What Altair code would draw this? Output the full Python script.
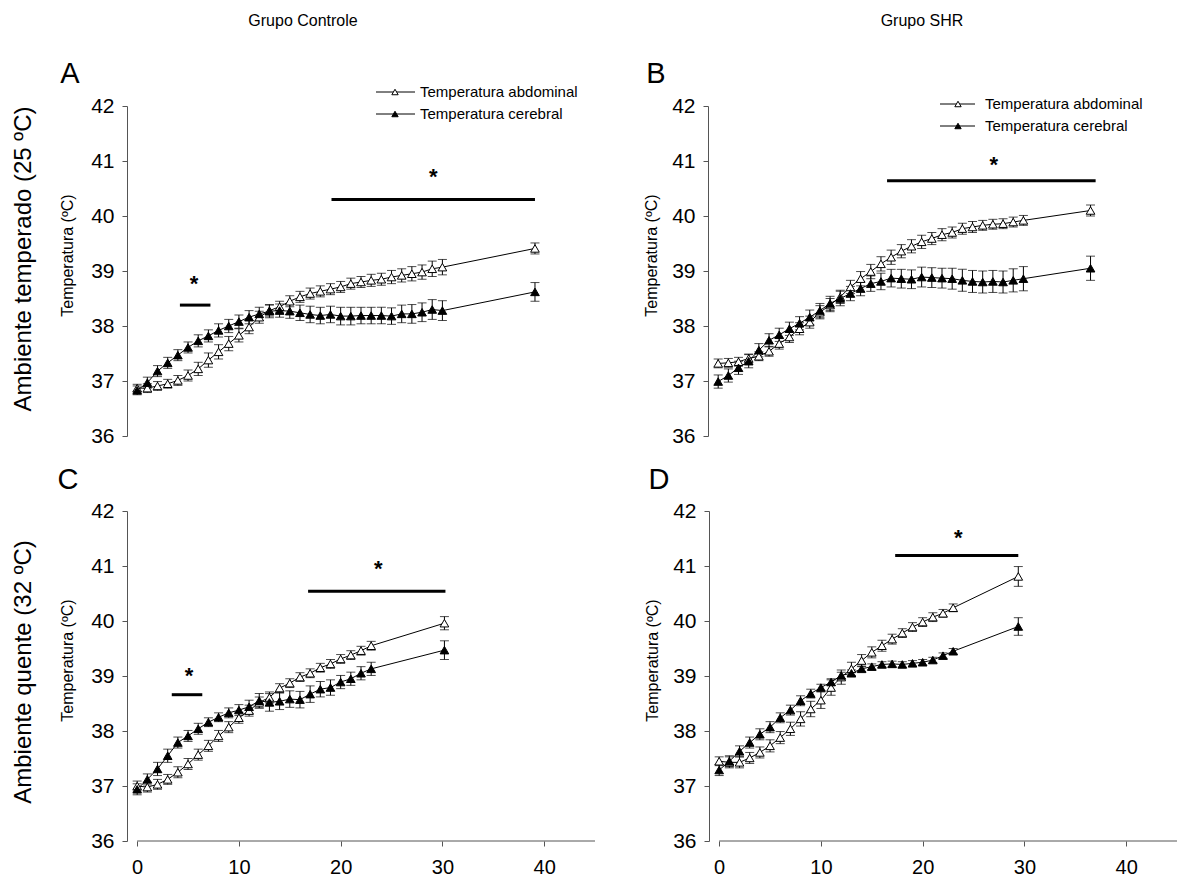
import altair as alt
import pandas as pd

FONT = "Liberation Sans"
series = ["Temperatura abdominal", "Temperatura cerebral"]

# ---------------- Panel A : Controle, 25 ºC ----------------
A_t = list(range(0, 31)) + [39.1]
A_abd = [36.87, 36.87, 36.91, 36.95, 37.01, 37.10, 37.22, 37.38, 37.53, 37.68, 37.83, 37.98, 38.16, 38.28, 38.35, 38.45,
         38.53, 38.59, 38.63, 38.67, 38.71, 38.77, 38.80, 38.83, 38.85, 38.89, 38.92, 38.95, 38.98, 39.04, 39.07, 39.41]
A_abd_e = [0.07, 0.08, 0.08, 0.08, 0.09, 0.10, 0.12, 0.13, 0.13, 0.13, 0.12, 0.12, 0.11, 0.10, 0.10, 0.10,
           0.10, 0.10, 0.10, 0.10, 0.10, 0.10, 0.10, 0.11, 0.11, 0.12, 0.12, 0.13, 0.13, 0.14, 0.14, 0.10]
A_cer = [36.83, 36.97, 37.18, 37.33, 37.47, 37.61, 37.73, 37.82, 37.92, 38.00, 38.08, 38.16, 38.22, 38.27, 38.28, 38.27,
         38.24, 38.21, 38.19, 38.21, 38.18, 38.18, 38.19, 38.19, 38.19, 38.18, 38.22, 38.22, 38.25, 38.30, 38.28, 38.62]
A_cer_e = [0.08, 0.10, 0.10, 0.10, 0.10, 0.10, 0.11, 0.11, 0.12, 0.12, 0.12, 0.12, 0.12, 0.12, 0.12, 0.13,
           0.14, 0.15, 0.15, 0.15, 0.16, 0.16, 0.15, 0.15, 0.15, 0.15, 0.16, 0.17, 0.17, 0.18, 0.18, 0.17]
A_sig_x0 = [4.2, 19.1]
A_sig_x1 = [7.2, 39.1]
A_sig_y = [38.38, 40.30]
A_star_x = [5.6, 29.1]
A_star_y = [38.86, 40.80]

# ---------------- Panel B : SHR, 25 ºC ----------------
B_t = list(range(0, 31)) + [36.6]
B_abd = [37.32, 37.33, 37.35, 37.41, 37.45, 37.54, 37.68, 37.80, 37.95, 38.07, 38.25, 38.38, 38.53, 38.71, 38.86, 38.99,
         39.13, 39.25, 39.36, 39.45, 39.53, 39.59, 39.66, 39.70, 39.77, 39.80, 39.83, 39.85, 39.86, 39.89, 39.92, 40.10]
B_abd_e = [0.08, 0.08, 0.08, 0.08, 0.08, 0.09, 0.10, 0.10, 0.11, 0.11, 0.12, 0.12, 0.12, 0.12, 0.13, 0.13,
           0.13, 0.13, 0.12, 0.12, 0.12, 0.11, 0.11, 0.10, 0.10, 0.10, 0.09, 0.09, 0.09, 0.09, 0.09, 0.10]
B_cer = [36.99, 37.10, 37.24, 37.36, 37.56, 37.74, 37.84, 37.95, 38.05, 38.16, 38.28, 38.41, 38.50, 38.59, 38.68, 38.77,
         38.81, 38.87, 38.86, 38.85, 38.89, 38.88, 38.87, 38.86, 38.83, 38.81, 38.80, 38.81, 38.80, 38.83, 38.86, 39.05]
B_cer_e = [0.12, 0.12, 0.12, 0.12, 0.12, 0.12, 0.12, 0.12, 0.12, 0.13, 0.13, 0.13, 0.13, 0.13, 0.13, 0.14,
           0.15, 0.16, 0.17, 0.17, 0.18, 0.18, 0.18, 0.19, 0.20, 0.20, 0.20, 0.20, 0.20, 0.21, 0.22, 0.22]
B_sig_x0 = [16.6]
B_sig_x1 = [37.1]
B_sig_y = [40.64]
B_star_x = [27.1]
B_star_y = [41.01]

# ---------------- Panel C : Controle, 32 ºC ----------------
C_t = list(range(0, 24)) + [30.2]
C_abd = [37.00, 36.98, 37.03, 37.12, 37.25, 37.40, 37.57, 37.73, 37.91, 38.07, 38.24, 38.37, 38.52, 38.61, 38.78, 38.87,
         38.98, 39.05, 39.15, 39.22, 39.31, 39.38, 39.46, 39.55, 39.96]
C_abd_e = [0.09, 0.09, 0.09, 0.09, 0.10, 0.10, 0.10, 0.10, 0.10, 0.10, 0.10, 0.10, 0.10, 0.10, 0.08, 0.08,
           0.08, 0.08, 0.08, 0.08, 0.08, 0.08, 0.08, 0.08, 0.12]
C_cer = [36.94, 37.12, 37.31, 37.55, 37.79, 37.91, 38.04, 38.16, 38.25, 38.33, 38.38, 38.44, 38.55, 38.52, 38.54, 38.58,
         38.57, 38.67, 38.76, 38.79, 38.89, 38.95, 39.05, 39.13, 39.47]
C_cer_e = [0.10, 0.10, 0.12, 0.12, 0.10, 0.10, 0.10, 0.08, 0.08, 0.09, 0.10, 0.12, 0.13, 0.16, 0.15, 0.15,
           0.15, 0.15, 0.14, 0.14, 0.12, 0.12, 0.12, 0.12, 0.17]
C_sig_x0 = [3.4, 16.8]
C_sig_x1 = [6.4, 30.3]
C_sig_y = [38.66, 40.54]
C_star_x = [5.1, 23.7]
C_star_y = [39.09, 41.03]

# ---------------- Panel D : SHR, 32 ºC ----------------
D_t = list(range(0, 24)) + [29.4]
D_abd = [37.45, 37.43, 37.43, 37.51, 37.61, 37.73, 37.88, 38.04, 38.22, 38.40, 38.56, 38.79, 38.98, 39.13, 39.28, 39.43,
         39.55, 39.67, 39.78, 39.89, 39.98, 40.07, 40.14, 40.24, 40.81]
D_abd_e = [0.08, 0.10, 0.10, 0.10, 0.10, 0.11, 0.11, 0.12, 0.13, 0.14, 0.15, 0.14, 0.13, 0.12, 0.11, 0.10,
           0.10, 0.09, 0.08, 0.08, 0.08, 0.08, 0.07, 0.07, 0.18]
D_cer = [37.29, 37.45, 37.63, 37.79, 37.94, 38.07, 38.24, 38.38, 38.55, 38.68, 38.79, 38.89, 39.01, 39.05, 39.13, 39.17,
         39.21, 39.22, 39.21, 39.23, 39.25, 39.29, 39.37, 39.45, 39.90]
D_cer_e = [0.10, 0.10, 0.10, 0.10, 0.10, 0.10, 0.09, 0.09, 0.09, 0.08, 0.06, 0.06, 0.06, 0.06, 0.05, 0.05,
           0.05, 0.05, 0.05, 0.05, 0.05, 0.05, 0.05, 0.05, 0.16]
D_sig_x0 = [17.3]
D_sig_x1 = [29.4]
D_sig_y = [41.19]
D_star_x = [23.5]
D_star_y = [41.60]

col_titles = ["Grupo Controle", "Grupo SHR"]
row_titles = ["Ambiente temperado (25 ºC)", "Ambiente quente (32 ºC)"]
letters = ["A", "B", "C", "D"]
y_ticks = [36, 37, 38, 39, 40, 41, 42]
x_ticks = [0, 10, 20, 30, 40]
x_axis_span = [0, 45]
y_min = 36

W, H = 468, 330
AX = "#555555"


def make_df(t, abd, abd_e, cer, cer_e):
    rows = []
    for s, m, e in ((series[0], abd, abd_e), (series[1], cer, cer_e)):
        for ti, mi, ei in zip(t, m, e):
            rows.append({"t": ti, "m": mi, "lo": round(mi - ei, 3), "hi": round(mi + ei, 3), "serie": s})
    return pd.DataFrame(rows)


def panel(t, abd, abd_e, cer, cer_e, sx0, sx1, sy, stx, sty, letter, letter_pos,
          col_title=None, col_pos=None, row_title=None, row_pos=None, legend_pos=None,
          show_x=False, ytitle_x=-60):
    df = make_df(t, abd, abd_e, cer, cer_e)
    xscale = alt.Scale(domain=[-1, 45], nice=False, zero=False)
    yscale = alt.Scale(domain=[36, 42], nice=False, zero=False)
    yaxis = alt.Axis(values=y_ticks, grid=False, domainColor=AX, tickColor=AX, tickSize=5,
                     labelFontSize=21, labelFont=FONT, labelColor="black", labelPadding=8, format="d",
                     title="Temperatura (ºC)", titleFont=FONT, titleFontSize=16, titleFontWeight="normal",
                     titleColor="black", titleX=ytitle_x, titleY=149, titleAngle=270, titleAlign="center",
                     titleBaseline="middle")
    if show_x:
        xaxis = alt.Axis(values=x_ticks, grid=False, domain=False, tickColor=AX, tickSize=5,
                         labelFontSize=20, labelFont=FONT, labelColor="black", labelPadding=11,
                         format="d", title=None)
    else:
        xaxis = None
    X = alt.X("t:Q", scale=xscale, axis=xaxis)
    base = alt.Chart(df)
    lines = base.mark_line(color="black", strokeWidth=1).encode(
        x=X, y=alt.Y("m:Q", scale=yscale, axis=yaxis), detail="serie:N")
    bars = base.mark_rule(color="black", strokeWidth=1).encode(
        x=X, y=alt.Y("lo:Q", scale=yscale, axis=yaxis), y2="hi:Q")
    cap_lo = base.mark_tick(orient="horizontal", size=9, thickness=1, color="black").encode(
        x=X, y=alt.Y("lo:Q", scale=yscale, axis=yaxis))
    cap_hi = base.mark_tick(orient="horizontal", size=9, thickness=1, color="black").encode(
        x=X, y=alt.Y("hi:Q", scale=yscale, axis=yaxis))
    pts = base.mark_point(shape="triangle-up", size=75, filled=True, stroke="black",
                          strokeWidth=1, opacity=1).encode(
        x=X, y=alt.Y("m:Q", scale=yscale, axis=yaxis),
        fill=alt.Fill("serie:N", scale=alt.Scale(domain=series, range=["white", "black"]), legend=None))

    sig_df = pd.DataFrame({"x0": sx0, "x1": sx1, "y": sy})
    sig = alt.Chart(sig_df).mark_rule(color="black", strokeWidth=3).encode(
        x=alt.X("x0:Q", scale=xscale, axis=xaxis), x2="x1:Q",
        y=alt.Y("y:Q", scale=yscale, axis=yaxis))
    star_df = pd.DataFrame({"x": stx, "y": sty, "s": ["*"] * len(stx)})
    stars = alt.Chart(star_df).mark_text(font=FONT, fontSize=22, fontWeight="bold", baseline="alphabetic",
                                         dy=12, color="black").encode(
        x=alt.X("x:Q", scale=xscale, axis=xaxis), y=alt.Y("y:Q", scale=yscale, axis=yaxis), text="s:N")

    layers = [lines, bars, cap_lo, cap_hi, pts, sig, stars]

    if show_x:
        ax_df = pd.DataFrame({"x0": [x_axis_span[0]], "x1": [x_axis_span[1]], "y": [y_min]})
        layers.insert(0, alt.Chart(ax_df).mark_rule(color=AX, strokeWidth=1).encode(
            x=alt.X("x0:Q", scale=xscale, axis=xaxis), x2="x1:Q",
            y=alt.Y("y:Q", scale=yscale, axis=yaxis)))

    lab = alt.Chart(pd.DataFrame({"l": [letter]})).mark_text(
        font=FONT, fontSize=29, color="black", align="center", baseline="middle").encode(
        x=alt.value(letter_pos[0]), y=alt.value(letter_pos[1]), text="l:N")
    layers.append(lab)
    if col_title:
        ct = alt.Chart(pd.DataFrame({"l": [col_title]})).mark_text(
            font=FONT, fontSize=16, color="black", align="center", baseline="middle").encode(
            x=alt.value(col_pos[0]), y=alt.value(col_pos[1]), text="l:N")
        layers.append(ct)
    if row_title:
        rt = alt.Chart(pd.DataFrame({"l": [row_title]})).mark_text(
            font=FONT, fontSize=24, color="black", align="center", baseline="middle", angle=270).encode(
            x=alt.value(row_pos[0]), y=alt.value(row_pos[1]), text="l:N")
        layers.append(rt)
    if legend_pos:
        lx0, lx1, ltri, ltext, ly0, ldy = legend_pos
        for k, s in enumerate(series):
            yy = ly0 + k * ldy
            ldf = pd.DataFrame({"serie": [s]})
            lc = alt.Chart(ldf)
            layers.append(lc.mark_rule(color="black", strokeWidth=1).encode(
                x=alt.value(lx0), x2=alt.value(lx1), y=alt.value(yy)))
            layers.append(lc.mark_point(shape="triangle-up", size=40, filled=True, stroke="black",
                                        strokeWidth=1, opacity=1).encode(
                x=alt.value(ltri), y=alt.value(yy),
                fill=alt.Fill("serie:N", scale=alt.Scale(domain=series, range=["white", "black"]),
                              legend=None)))
            layers.append(lc.mark_text(font=FONT, fontSize=15, color="black", align="left",
                                       baseline="middle").encode(
                x=alt.value(ltext), y=alt.value(yy), text="serie:N"))
    return alt.layer(*layers).properties(width=W, height=H)


pA = panel(A_t, A_abd, A_abd_e, A_cer, A_cer_e, A_sig_x0, A_sig_x1, A_sig_y, A_star_x, A_star_y,
           letters[0], (-57, -32), col_title=col_titles[0], col_pos=(176, -85),
           row_title=row_titles[0], row_pos=(-103, 153), legend_pos=(249, 288, 268, 293, -14, 22))
pB = panel(B_t, B_abd, B_abd_e, B_cer, B_cer_e, B_sig_x0, B_sig_x1, B_sig_y, B_star_x, B_star_y,
           letters[1], (-52, -32), col_title=col_titles[1], col_pos=(214, -85),
           legend_pos=(232, 267, 250, 277, -2, 22), ytitle_x=-57)
pC = panel(C_t, C_abd, C_abd_e, C_cer, C_cer_e, C_sig_x0, C_sig_x1, C_sig_y, C_star_x, C_star_y,
           letters[2], (-59, -31), row_title=row_titles[1], row_pos=(-103, 161), show_x=True)
pD = panel(D_t, D_abd, D_abd_e, D_cer, D_cer_e, D_sig_x0, D_sig_x1, D_sig_y, D_star_x, D_star_y,
           letters[3], (-50, -31), show_x=True, ytitle_x=-57)

chart = alt.vconcat(
    alt.hconcat(pA, pB, spacing=48),
    alt.hconcat(pC, pD, spacing=48),
    spacing=20,
).properties(
    padding={"left": 12, "top": 13, "right": 0, "bottom": 0},
    background="white",
).configure_view(stroke=None)

chart.save("out.html", embed_options={"renderer": "svg", "actions": False})
